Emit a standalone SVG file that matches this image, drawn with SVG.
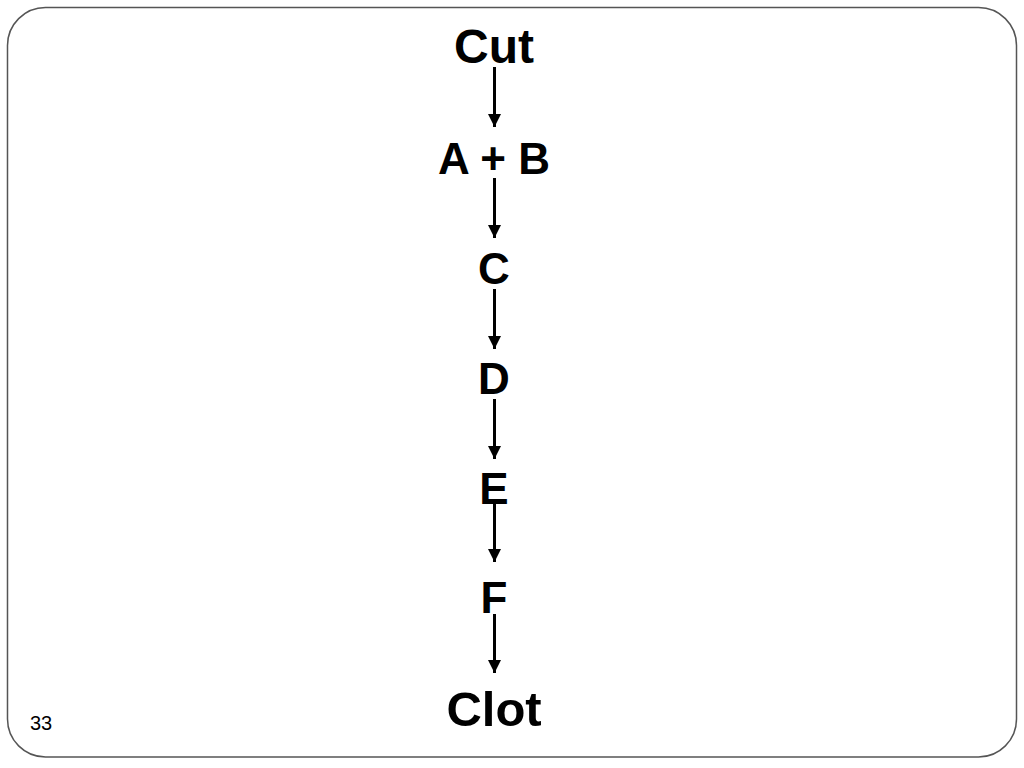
<svg xmlns="http://www.w3.org/2000/svg" width="1024" height="768" viewBox="0 0 1024 768">
<defs>
<style>
.lbl{font-family:"Liberation Sans",Arial,sans-serif;font-weight:bold;fill:#000;text-anchor:middle}
.arr{stroke:#000;stroke-width:3;fill:none}
</style>
<marker id="ah" markerWidth="14" markerHeight="14" refX="13" refY="6.5" orient="auto" markerUnits="userSpaceOnUse">
<path d="M0,0 L13,6.5 L0,13 Z" fill="#000"/>
</marker>
</defs>
<rect x="0" y="0" width="1024" height="768" fill="#fff"/>
<rect x="7.5" y="7.5" width="1009" height="749.5" rx="38" ry="38" fill="none" stroke="#555" stroke-width="1.5"/>
<g id="cut"><text class="lbl" x="494" y="63" font-size="48">Cut</text></g>
<g id="ab"><text class="lbl" x="494" y="174" font-size="44">A + B</text></g>
<g id="c"><text class="lbl" x="494" y="284" font-size="44">C</text></g>
<g id="d"><text class="lbl" x="494" y="394" font-size="44">D</text></g>
<g id="e"><text class="lbl" x="494" y="504" font-size="44">E</text></g>
<g id="f"><text class="lbl" x="494" y="613" font-size="44">F</text></g>
<g id="clot"><text class="lbl" x="494" y="726" font-size="49">Clot</text></g>
<g id="connectors">
<line class="arr" x1="494.5" y1="67" x2="494.5" y2="127" marker-end="url(#ah)"/>
<line class="arr" x1="494.5" y1="178" x2="494.5" y2="238" marker-end="url(#ah)"/>
<line class="arr" x1="494.5" y1="289" x2="494.5" y2="349" marker-end="url(#ah)"/>
<line class="arr" x1="494.5" y1="399" x2="494.5" y2="459" marker-end="url(#ah)"/>
<line class="arr" x1="494.5" y1="503" x2="494.5" y2="562" marker-end="url(#ah)"/>
<line class="arr" x1="494.5" y1="614" x2="494.5" y2="673" marker-end="url(#ah)"/>
</g>
<text x="30" y="730" font-family="Liberation Sans,Arial,sans-serif" font-size="20" fill="#000">33</text>
</svg>
